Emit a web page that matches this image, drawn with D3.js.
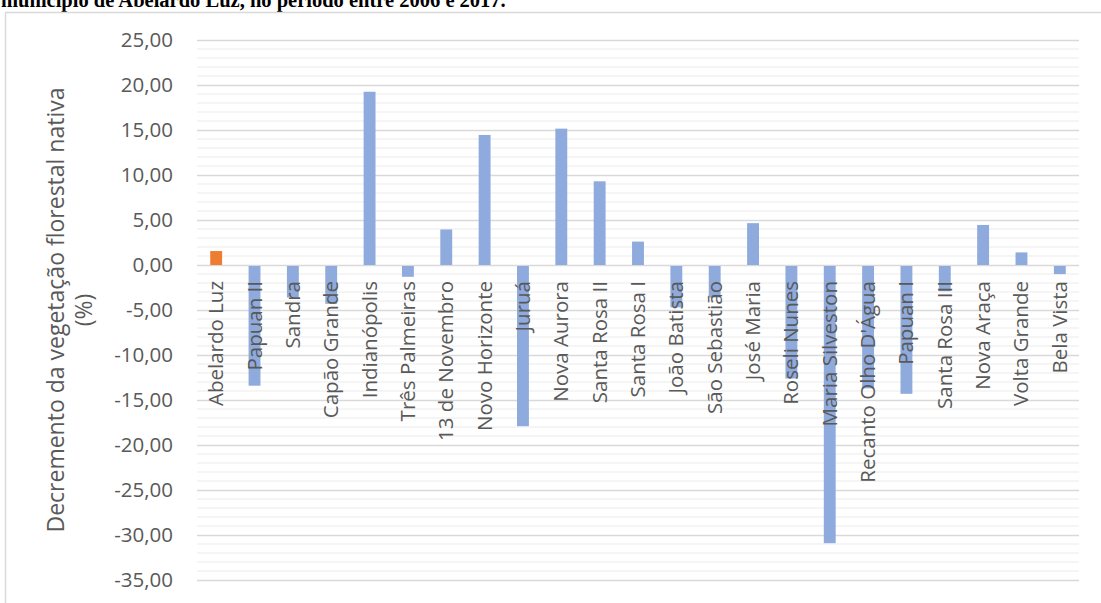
<!DOCTYPE html>
<html>
<head>
<meta charset="utf-8">
<script src="https://cdn.jsdelivr.net/npm/d3@7"></script>
<style>
  body { margin: 0; background: #fff; }
  svg text { font-family: "Open Sans", sans-serif; fill: #595959; }
</style>
</head>
<body>
<svg id="chart"></svg>
<script>
const categories = ["Abelardo Luz", "Papuan II", "Sandra", "Capão Grande", "Indianópolis",
  "Três Palmeiras", "13 de Novembro", "Novo Horizonte", "Juruá", "Nova Aurora",
  "Santa Rosa II", "Santa Rosa I", "João Batista", "São Sebastião", "José Maria",
  "Roseli Nunes", "Maria Silveston", "Recanto Olho D'Água", "Papuan I", "Santa Rosa III",
  "Nova Araça", "Volta Grande", "Bela Vista"];
// decremento (%)
const values = [1.55, -13.3, -3.5, -4.2, 19.25, -1.2, 3.95, 14.45, -17.8, 15.15,
  9.3, 2.6, -4.6, -3.5, 4.65, -12.5, -30.8, -13.6, -14.2, -2.8, 4.45, 1.4, -0.9];
const yTicks = [25, 20, 15, 10, 5, 0, -5, -10, -15, -20, -25, -30, -35];

const width = 1101, height = 603;
const plotLeft = 197, plotRight = 1079;

const svg = d3.select("#chart").attr("width", width).attr("height", height);

// título recortado no topo
svg.append("text")
  .attr("x", 1).attr("y", 7)
  .style("font-family", "'Liberation Serif', serif")
  .style("font-weight", "bold")
  .style("font-size", "20.5px")
  .style("fill", "#000")
  .text("município de Abelardo Luz, no período entre 2006 e 2017.");

// moldura do gráfico
svg.append("path")
  .attr("d", "M5.5,603 V12.5 H1101")
  .attr("fill", "none").attr("stroke", "#d9d9d9").attr("stroke-width", 1.5);

const x = d3.scaleBand()
  .domain(d3.range(categories.length))
  .range([plotLeft, plotRight])
  .paddingInner(0.69).paddingOuter(0.345);

const y = d3.scaleLinear().domain([-35, 25]).range([580, 40]);

const loc = d3.formatLocale({ decimal: ",", thousands: ".", grouping: [3], currency: ["R$", ""], minus: "-" });
const fmt = loc.format(".2f");

// linhas de grade secundárias
svg.append("g").selectAll("line")
  .data(d3.range(-35, 26, 1).filter(v => v % 5 !== 0))
  .join("line")
  .attr("x1", plotLeft).attr("x2", plotRight)
  .attr("y1", d => y(d)).attr("y2", d => y(d))
  .attr("stroke", "#f2f2f2").attr("stroke-width", 1.5);

// eixo y + linhas principais
const yAxis = svg.append("g")
  .attr("transform", `translate(${plotLeft},0)`)
  .call(d3.axisLeft(y).tickValues(yTicks).tickFormat(fmt).tickSize(-(plotRight - plotLeft)).tickPadding(24));
yAxis.select(".domain").remove();
yAxis.selectAll(".tick line").attr("stroke", "#d9d9d9").attr("stroke-width", 1.5);
yAxis.selectAll(".tick text").style("font-size", "20.5px").style("fill", "#595959")
  .style("font-family", "'Open Sans', sans-serif");

// barras
svg.append("g").selectAll("rect")
  .data(values)
  .join("rect")
  .attr("x", (d, i) => x(i))
  .attr("width", x.bandwidth())
  .attr("y", d => d >= 0 ? y(d) : y(0) + 1)
  .attr("height", d => Math.abs(y(d) - y(0)))
  .attr("fill", (d, i) => i === 0 ? "#ed7d31" : "#8faadc");

// rótulos das categorias
svg.append("g").selectAll("text")
  .data(categories)
  .join("text")
  .attr("transform", (d, i) => `translate(${x(i) + x.bandwidth() / 2 + 7},281) rotate(-90)`)
  .attr("text-anchor", "end")
  .style("font-size", "20.5px")
  .text(d => d);

// título do eixo y
const yt = svg.append("text")
  .attr("transform", `translate(0,${(y(25) + y(-35)) / 2}) rotate(-90)`)
  .attr("text-anchor", "middle")
  .style("font-size", "23px");
yt.append("tspan").attr("x", 0).attr("y", 64).text("Decremento da vegetação florestal nativa");
yt.append("tspan").attr("x", 0).attr("y", 92).text("(%)");
</script>
</body>
</html>
